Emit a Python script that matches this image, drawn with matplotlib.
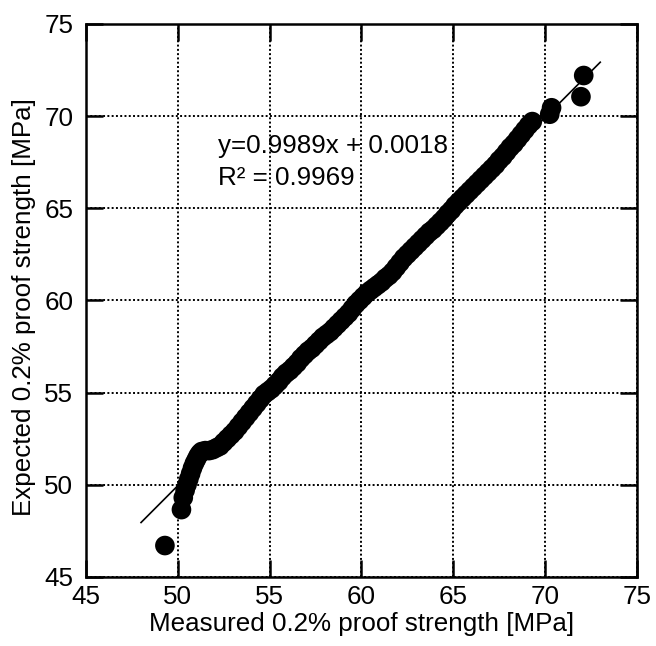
import matplotlib
matplotlib.use("Agg")
import matplotlib.pyplot as plt

plt.rcParams['font.family'] = ['Liberation Sans', 'DejaVu Sans']

# Measured vs expected 0.2% proof strength [MPa]
measured = [49.3, 50.2, 50.3, 50.4, 50.5, 50.6, 50.7, 50.8, 50.9, 51.0, 51.1, 51.2,
            51.3, 51.5, 51.7, 51.9, 52.1, 52.3, 52.5, 52.7, 52.9, 53.1, 53.3, 53.5,
            53.7, 53.9, 54.1, 54.3, 54.5, 54.7, 54.9, 55.1, 55.3, 55.5, 55.7, 55.9,
            56.1, 56.3, 56.5, 56.7, 56.9, 57.1, 57.3, 57.5, 57.7, 57.9, 58.1, 58.3,
            58.5, 58.7, 58.9, 59.1, 59.3, 59.5, 59.7, 59.9, 60.1, 60.3, 60.5, 60.7,
            60.9, 61.1, 61.3, 61.5, 61.7, 61.9, 62.1, 62.3, 62.5, 62.7, 62.9, 63.1,
            63.3, 63.5, 63.7, 63.9, 64.1, 64.3, 64.5, 64.7, 64.9, 65.1, 65.3, 65.5,
            65.7, 65.9, 66.1, 66.3, 66.5, 66.7, 66.9, 67.1, 67.3, 67.5, 67.7, 67.9,
            68.1, 68.3, 68.5, 68.7, 68.9, 69.1, 69.3, 70.25, 70.35, 71.95, 72.1]
expected = [46.7, 48.65, 49.3, 49.7, 50.0, 50.3, 50.6, 50.9, 51.15, 51.35, 51.55, 51.7,
            51.8, 51.85, 51.85, 51.9, 52.0, 52.1, 52.3, 52.5, 52.7, 52.9, 53.15, 53.4,
            53.65, 53.9, 54.15, 54.4, 54.65, 54.9, 55.05, 55.2, 55.4, 55.6, 55.85, 56.05,
            56.2, 56.4, 56.6, 56.85, 57.05, 57.25, 57.4, 57.6, 57.8, 58.0, 58.15, 58.3,
            58.5, 58.7, 58.9, 59.1, 59.3, 59.55, 59.8, 60.0, 60.2, 60.4, 60.55, 60.7,
            60.85, 61.0, 61.2, 61.35, 61.55, 61.8, 62.05, 62.3, 62.5, 62.7, 62.9, 63.1,
            63.3, 63.5, 63.7, 63.85, 64.05, 64.25, 64.45, 64.7, 64.9, 65.15, 65.35, 65.55,
            65.75, 65.95, 66.15, 66.35, 66.55, 66.75, 66.95, 67.15, 67.35, 67.6, 67.8, 68.05,
            68.3, 68.5, 68.75, 69.0, 69.25, 69.5, 69.7, 70.1, 70.45, 71.05, 72.2]

slope = 0.9989
intercept = 0.0018
r2 = 0.9969
fit_range = [48.0, 73.0]

xticks = [45, 50, 55, 60, 65, 70, 75]
yticks = [45, 50, 55, 60, 65, 70, 75]

FS = 18.7

fig = plt.figure(figsize=(6.56, 6.46), dpi=100)
ax = fig.add_axes([0.131, 0.107, 0.840, 0.856])

ax.set_xlim(45, 75)
ax.set_ylim(45, 75)
ax.set_xticks(xticks)
ax.set_yticks(yticks)

ax.grid(True, color='black', linestyle=(0, (1, 1.2)), linewidth=1.4)
ax.set_axisbelow(True)

ax.scatter(measured, expected, s=200, color='black', edgecolors='none', zorder=3)
ax.plot(fit_range, [slope * v + intercept for v in fit_range], color='black', lw=1.2, zorder=4)

ax.text(52.2, 68.35, f"y={slope}x + {intercept}", fontsize=FS, va='center', ha='left')
ax.text(52.2, 66.65, f"R\u00b2 = {r2}", fontsize=FS, va='center', ha='left')

for s in ax.spines.values():
    s.set_linewidth(1.8)
ax.tick_params(direction='in', length=12, width=1.8, top=True, right=True,
               labelsize=FS)
ax.tick_params(axis='x', pad=6)
ax.tick_params(axis='y', pad=9)

ax.set_xlabel("Measured 0.2% proof strength [MPa]", fontsize=FS, labelpad=2)
ax.set_ylabel("Expected 0.2% proof strength [MPa]", fontsize=FS)
ax.yaxis.set_label_coords(-0.09, 0.488)

fig.savefig("out.png", dpi=100, facecolor='white')
